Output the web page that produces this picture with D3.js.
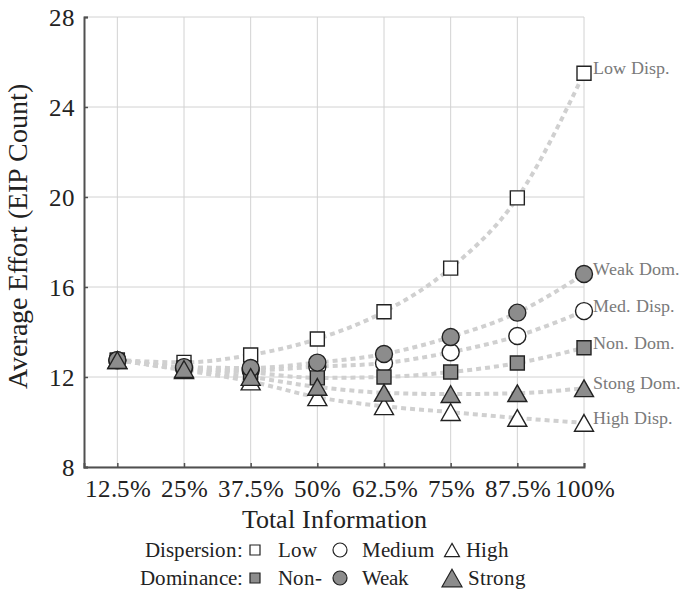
<!DOCTYPE html>
<html>
<head>
<meta charset="utf-8">
<script src="https://cdn.jsdelivr.net/npm/d3@7"></script>
<style>
  @font-face { font-family: 'ChartSerif'; src: local('Liberation Serif'), local('LiberationSerif-Regular'), local('LiberationSerif'); }
  body { margin: 0; background: #fff; }
  svg, svg text { font-family: 'ChartSerif', 'Liberation Serif', serif !important; }
</style>
</head>
<body>
<div id="chart"></div>
<script>
// x categories (share of total information)
var infoLevels = [12.5, 25, 37.5, 50, 62.5, 75, 87.5, 100];
var infoLabels = ['12.5%', '25%', '37.5%', '50%', '62.5%', '75%', '87.5%', '100%'];
var yTicks = [8, 12, 16, 20, 24, 28];

// average effort per series
var lowDisp    = [12.75, 12.65, 12.98, 13.69, 14.90, 16.84, 19.96, 25.50];
var medDisp    = [12.75, 12.40, 12.30, 12.46, 12.62, 13.10, 13.82, 14.93];
var highDisp   = [12.75, 12.30, 11.80, 11.10, 10.70, 10.44, 10.18,  9.96];
var nonDom     = [12.75, 12.40, 12.20, 11.96, 12.00, 12.22, 12.62, 13.30];
var weakDom    = [12.75, 12.44, 12.40, 12.64, 13.02, 13.78, 14.86, 16.58];
var strongDom  = [12.75, 12.35, 12.00, 11.56, 11.30, 11.24, 11.28, 11.50];

var seriesNames = ['Low Disp.', 'Med. Disp.', 'High Disp.', 'Non. Dom.', 'Weak Dom.', 'Stong Dom.'];
var seriesShapes = ['square', 'circle', 'triangle', 'square', 'circle', 'triangle'];
var seriesFills = ['#fff', '#fff', '#fff', '#8c8c8c', '#8c8c8c', '#8c8c8c'];
var seriesValues = [lowDisp, medDisp, highDisp, nonDom, weakDom, strongDom];

var SERIF = "'Liberation Serif'";
var width = 684, height = 590;
var margin = {top: 17, right: 100, bottom: 123, left: 84};

var svg = d3.select('#chart').append('svg')
    .attr('width', width)
    .attr('height', height)
    .attr('font-family', SERIF);

var x = d3.scaleLinear().domain([6.25, 100]).range([margin.left, width - margin.right]);
var y = d3.scaleLinear().domain([8, 28]).range([height - margin.bottom, margin.top]);

function addText(parent, size) {
    return parent.append('text')
        .attr('font-family', SERIF)
        .style('font-size', size + 'px');
}

// grid
svg.append('g').selectAll('line')
    .data(infoLevels).enter().append('line')
    .attr('x1', function(d) { return x(d); }).attr('x2', function(d) { return x(d); })
    .attr('y1', y(8)).attr('y2', y(28))
    .attr('stroke', '#d2d2d2').attr('stroke-width', 1);
svg.append('g').selectAll('line')
    .data(yTicks).enter().append('line')
    .attr('x1', x(6.25)).attr('x2', x(100))
    .attr('y1', function(d) { return y(d); }).attr('y2', function(d) { return y(d); })
    .attr('stroke', '#d2d2d2').attr('stroke-width', 1);

// axes
var xAxis = svg.append('g')
    .attr('transform', 'translate(0,' + y(8) + ')')
    .call(d3.axisBottom(x).tickValues(infoLevels).tickSize(-4)
        .tickFormat(function(d, i) { return infoLabels[i]; }));
var yAxis = svg.append('g')
    .attr('transform', 'translate(' + x(6.25) + ',0)')
    .call(d3.axisLeft(y).tickValues(yTicks).tickSize(-4));

[xAxis, yAxis].forEach(function(a) {
    a.attr('font-family', SERIF);
    a.select('.domain').attr('stroke', '#505050').attr('stroke-width', 2);
    a.selectAll('.tick line').attr('stroke', '#505050').attr('stroke-width', 1.5);
    a.selectAll('.tick text').attr('fill', '#222')
        .attr('font-family', SERIF).style('font-size', '25px');
});
xAxis.selectAll('.tick text').attr('y', 30).attr('dy', null);
yAxis.selectAll('.tick text').attr('x', -9);

// titles
addText(svg, 26)
    .attr('x', (x(6.25) + x(100)) / 2).attr('y', 528)
    .attr('text-anchor', 'middle').attr('fill', '#222')
    .text('Total Information');
addText(svg, 28)
    .attr('transform', 'translate(27,236) rotate(-90)')
    .attr('text-anchor', 'middle').attr('fill', '#222')
    .text('Average Effort (EIP Count)');

// marker shapes
function shapePath(shape, size) {
    if (shape === 'square') {
        var h = size / 2;
        return 'M' + (-h) + ',' + (-h) + 'H' + h + 'V' + h + 'H' + (-h) + 'Z';
    }
    if (shape === 'circle') {
        var r = size / 2;
        return 'M' + r + ',0A' + r + ',' + r + ' 0 1,1 ' + (-r) + ',0A' + r + ',' + r + ' 0 1,1 ' + r + ',0Z';
    }
    var w = size / 2, th = size * 0.88 / 2;
    return 'M0,' + (-th) + 'L' + w + ',' + th + 'L' + (-w) + ',' + th + 'Z';
}
var shapeSize = {square: 14, circle: 17, triangle: 19};

// dotted lines
var line = d3.line()
    .x(function(d, i) { return x(infoLevels[i]); })
    .y(function(d) { return y(d); })
    .curve(d3.curveMonotoneX);

svg.append('g').selectAll('path')
    .data(seriesValues).enter().append('path')
    .attr('d', line)
    .attr('fill', 'none')
    .attr('stroke', '#d0d0d0')
    .attr('stroke-width', 4)
    .attr('stroke-dasharray', '5,4');

// markers
seriesValues.forEach(function(vals, s) {
    svg.append('g').selectAll('path')
        .data(vals).enter().append('path')
        .attr('transform', function(d, i) { return 'translate(' + x(infoLevels[i]) + ',' + y(d) + ')'; })
        .attr('d', shapePath(seriesShapes[s], shapeSize[seriesShapes[s]]))
        .attr('fill', seriesFills[s])
        .attr('stroke', '#222')
        .attr('stroke-width', 1.4);
});

// end labels
seriesValues.forEach(function(vals, s) {
    addText(svg, 17.5)
        .attr('x', x(100) + 9)
        .attr('y', y(vals[vals.length - 1]) - 5)
        .attr('dy', '0.35em')
        .attr('fill', '#7a7a7a')
        .text(seriesNames[s]);
});

// legend
var legendRows = [
    {title: 'Dispersion:', fill: '#fff', y: 557, items: ['Low', 'Medium', 'High'], tri: 15},
    {title: 'Dominance:', fill: '#8c8c8c', y: 585, items: ['Non-', 'Weak', 'Strong'], tri: 20}
];
var legendSymX = [255, 340, 452];
var legendTextX = [278, 362, 0];
legendRows.forEach(function(row) {
    var g = svg.append('g');
    addText(g, 21).attr('x', 243).attr('y', row.y)
        .attr('text-anchor', 'end').attr('fill', '#222')
        .text(row.title);
    var sizes = [10, 14, row.tri];
    var shapes = ['square', 'circle', 'triangle'];
    shapes.forEach(function(sh, i) {
        g.append('path')
            .attr('transform', 'translate(' + legendSymX[i] + ',' + (row.y - 7) + ')')
            .attr('d', shapePath(sh, sizes[i]))
            .attr('fill', row.fill).attr('stroke', '#222').attr('stroke-width', 1.2);
        addText(g, 21)
            .attr('x', i === 2 ? legendSymX[i] + row.tri / 2 + 6 : legendTextX[i])
            .attr('y', row.y).attr('fill', '#222')
            .text(row.items[i]);
    });
});
</script>
</body>
</html>
